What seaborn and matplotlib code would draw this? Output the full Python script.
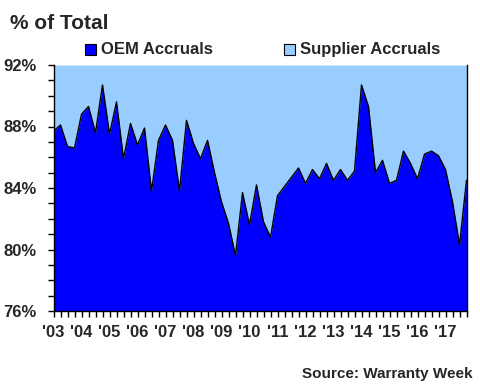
import numpy as np
import pandas as pd
import matplotlib
matplotlib.use("Agg")
import matplotlib.pyplot as plt
from matplotlib.patches import Rectangle
from matplotlib.ticker import MultipleLocator, FixedLocator
import seaborn as sns

years = ["'03", "'04", "'05", "'06", "'07", "'08", "'09", "'10", "'11", "'12", "'13", "'14", "'15", "'16", "'17"]
oem_share = [87.7, 88.1, 86.7, 86.6, 88.8, 89.3, 87.6, 90.7, 87.5, 89.6,
             85.9, 88.2, 86.8, 87.9, 83.8, 87.1, 88.1, 87.1, 83.8, 88.4,
             86.9, 85.9, 87.1, 85.0, 83.1, 81.7, 79.6, 83.7, 81.6, 84.2,
             81.8, 80.8, 83.5, 84.1, 84.7, 85.3, 84.3, 85.2, 84.6, 85.6,
             84.5, 85.2, 84.5, 85.1, 90.7, 89.3, 85.0, 85.8, 84.3, 84.5,
             86.4, 85.6, 84.6, 86.2, 86.4, 86.1, 85.2, 83.1, 80.3, 84.5]
series_names = ["OEM Accruals", "Supplier Accruals"]
colors = ["#0000FF", "#99CCFF"]
y_min, y_max = 76, 92

df = pd.DataFrame({"q": np.arange(len(oem_share)), "oem": oem_share})

sns.set_style("white")
plt.rcParams["font.family"] = ["Liberation Sans", "DejaVu Sans"]
plt.rcParams["font.weight"] = "bold"

fig = plt.figure(figsize=(4.8, 3.9), dpi=100)
ax = fig.add_axes([53.5 / 480, 1 - 311 / 390, (466.5 - 53.5) / 480, (311 - 65) / 390])

ax.fill_between(df["q"], y_min, df["oem"], color=colors[0], lw=0, zorder=2)
ax.fill_between(df["q"], df["oem"], y_max, color=colors[1], lw=0, zorder=1)
sns.lineplot(data=df, x="q", y="oem", color="black", lw=1.0, ax=ax, zorder=3)

ax.set_xlim(0, len(oem_share) - 1)
ax.set_ylim(y_min, y_max)
ax.set_xlabel("")
ax.set_ylabel("")

ax.yaxis.set_major_locator(MultipleLocator(4))
ax.yaxis.set_minor_locator(MultipleLocator(1))
ax.set_yticklabels([f"{int(v)}%" for v in ax.get_yticks()])
ax.xaxis.set_major_locator(FixedLocator(np.arange(0, len(oem_share), 4)))
ax.xaxis.set_minor_locator(FixedLocator(np.arange(0, len(oem_share))))
ax.set_xticklabels(years)

ax.tick_params(axis="both", which="both", direction="out", color="black", width=1)
ax.tick_params(axis="y", which="both", length=4, left=True, pad=8, labelsize=12)
ax.tick_params(axis="x", which="both", length=4, bottom=True, pad=6, labelsize=12)
for lab in ax.get_xticklabels() + ax.get_yticklabels():
    lab.set_fontweight("bold")

for side in ["left", "bottom", "right"]:
    ax.spines[side].set_visible(True)
    ax.spines[side].set_color("black")
    ax.spines[side].set_linewidth(1)
ax.spines["top"].set_visible(False)

fig.text(10 / 480, 1 - 29 / 390, "% of Total", fontsize=15, fontweight="bold", ha="left", va="baseline")

legend_x = [85, 284]
box = 11
for name, c, lx in zip(series_names, colors, legend_x):
    fig.patches.append(Rectangle((lx / 480, 1 - (49 + box / 2) / 390), box / 480, box / 390,
                                 transform=fig.transFigure, facecolor=c, edgecolor="black",
                                 lw=0.8, figure=fig))
    fig.text((lx + box + 5) / 480, 1 - 54 / 390, name, fontsize=12, fontweight="bold",
             ha="left", va="baseline")

fig.text(473 / 480, 1 - 378 / 390, "Source: Warranty Week", fontsize=11, fontweight="bold",
         ha="right", va="baseline")

fig.savefig("out.png", dpi=100)
